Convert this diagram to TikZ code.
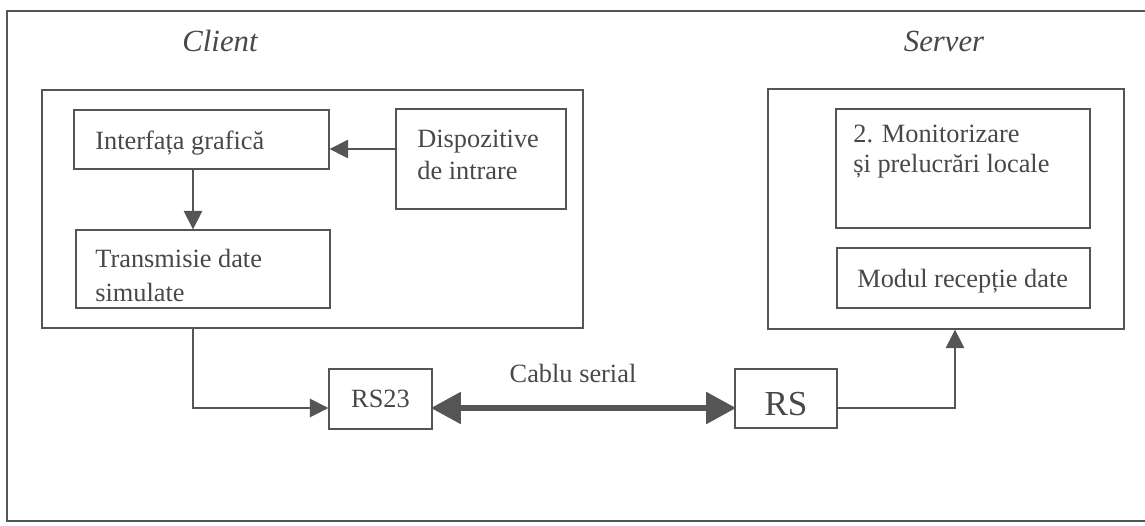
\documentclass[tikz,border=0pt]{standalone}
\usepackage{fontspec}
\setmainfont{Liberation Serif}
\usetikzlibrary{arrows.meta,fit}
\definecolor{ink}{HTML}{555555}
\definecolor{txtc}{HTML}{484848}
\begin{document}
\begin{tikzpicture}[x=0.02cm,y=-0.02cm,
  box/.style={draw=ink, line width=0.75pt, inner sep=0pt},
  txt/.style={text=txtc, font=\fontsize{15}{18}\selectfont, inner sep=0pt, anchor=base west},
  ttl/.style={text=txtc, font=\fontsize{17.5}{20}\selectfont\itshape, inner sep=0pt, anchor=base},
  arr/.style={draw=ink, line width=0.75pt, -{Triangle[length=10.5pt,width=10.5pt]}},
  bigarr/.style={draw=ink, line width=3.3pt, {Triangle[length=17pt,width=17.5pt]}-{Triangle[length=17pt,width=17.5pt]}, shorten <=-1pt, shorten >=-1pt}
]
\useasboundingbox (0,0) rectangle (1145,525);
\clip (0,0) rectangle (1145,525);
\fill[white] (0,0) rectangle (1145,525);

% outer frame
\node[box, line width=0.9pt, fit={(7,11) (1160,521)}] (frame) {};

% titles
\node[ttl] (clientt) at (220,51) {Client};
\node[ttl] (servert) at (944,51) {Server};

% client side
\node[box, fit={(42,90) (583,328)}] (client) {};
\node[box, fit={(74,110) (329,169)}] (inter) {};
\node[box, fit={(396,109) (566,209)}] (disp) {};
\node[box, fit={(76,230) (330,308)}] (trans) {};

\node[txt] (intert) at (95,149) {Interfața grafică};
\node[txt] (dispt1) at (417,147) {Dispozitive};
\node[txt] (dispt2) at (417,179) {de intrare};
\node[txt] (transt1) at (95,267) {Transmisie date};
\node[txt] (transt2) at (95,301) {simulate};

% server side
\node[box, fit={(768,89) (1124,329)}] (server) {};
\node[box, fit={(836,109) (1090,228)}] (monit) {};
\node[box, fit={(837,248) (1090,308)}] (modul) {};

\node[txt] (monitt1) at (853,142) {2. Monitorizare};
\node[txt] (monitt2) at (853,172) {și prelucrări locale};
\node[txt] (modult) at (857,287) {Modul recepție date};

% serial ports
\node[box, fit={(329,369) (432,429)}] (rs23) {};
\node[box, fit={(735,369) (837,428)}] (rs) {};
\node[txt, anchor=base] (rs23t) at (380.5,407) {RS23};
\node[txt, anchor=base, font=\fontsize{20}{24}\selectfont] (rst) at (786,415) {RS};
\node[txt, anchor=base] (cablu) at (573,382) {Cablu serial};

% connectors
\coordinate (a1) at (0,149);
\coordinate (cx) at (193,0);
\coordinate (lvl) at (0,408);
\coordinate (sx) at (955,0);

\draw[arr] (disp.west |- a1) -- (inter.east |- a1);
\draw[arr] (inter.south -| cx) -- (trans.north -| cx);
\draw[arr] (client.south -| cx) |- (rs23.west |- lvl);
\draw[bigarr] (rs23.east |- lvl) -- (rs.west |- lvl);
\draw[arr] (rs.east |- lvl) -| (server.south -| sx);
\end{tikzpicture}
\end{document}
